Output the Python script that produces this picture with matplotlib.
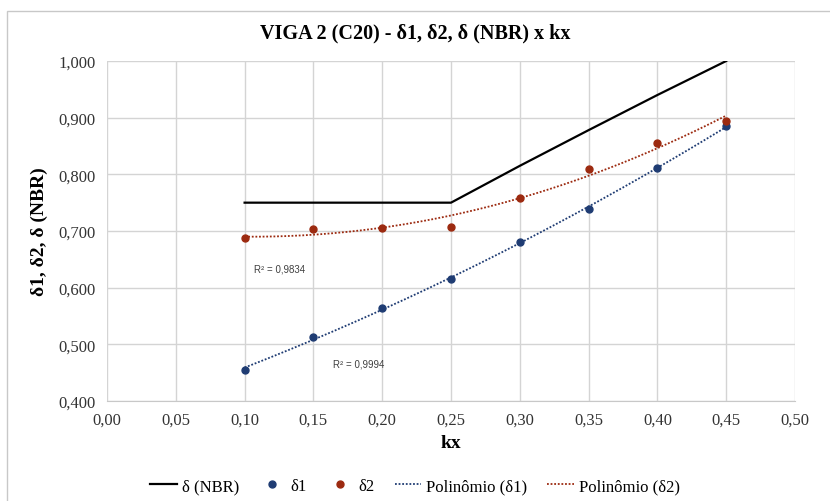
import numpy as np
import matplotlib
matplotlib.use('Agg')
import matplotlib.pyplot as plt
from matplotlib.patches import Rectangle
from matplotlib.ticker import FuncFormatter

kx = [0.10, 0.15, 0.20, 0.25, 0.30, 0.35, 0.40, 0.45]
d_nbr = [0.750, 0.750, 0.750, 0.750, 0.815, 0.878, 0.940, 1.000]
d1 = [0.455, 0.513, 0.564, 0.615, 0.680, 0.739, 0.812, 0.885]
d2 = [0.688, 0.704, 0.705, 0.707, 0.759, 0.810, 0.855, 0.894]

c1 = '#1F3C73'
c2 = '#9C2A10'

plt.rcParams['font.family'] = ['Liberation Serif', 'DejaVu Serif']

fig = plt.figure(figsize=(8.3, 5.02), dpi=100)
ax = fig.add_axes([107/830, 100/502, 688/830, 340/502])

# borda do gráfico
fig.patches.append(Rectangle((7/830, -0.1), 1.2, 1 - 12/502 + 0.1,
                             transform=fig.transFigure, fill=False,
                             edgecolor='#C8C8C8', linewidth=1.0))

ax.plot(kx, d_nbr, color='black', linewidth=1.6, label='δ (NBR)', zorder=3)
ax.plot(kx, d1, 'o', color=c1, markersize=5, label='δ1', zorder=4)
ax.plot(kx, d2, 'o', color=c2, markersize=5, label='δ2', zorder=4)

# linhas de tendência polinomiais (grau 2)
xs = np.linspace(kx[0], kx[-1], 200)
p1 = np.polyfit(kx, d1, 2)
p2 = np.polyfit(kx, d2, 2)
ax.plot(xs, np.polyval(p1, xs), linestyle=(0, (1, 1)), color=c1, linewidth=1.3,
        label='Polinômio (δ1)', zorder=3)
ax.plot(xs, np.polyval(p2, xs), linestyle=(0, (1, 1)), color=c2, linewidth=1.3,
        label='Polinômio (δ2)', zorder=3)

ax.text(0.107, 0.633, 'R² = 0,9834', fontsize=7, family=['Liberation Sans'],
        color='#404040', va='center')
ax.text(0.164, 0.467, 'R² = 0,9994', fontsize=7, family=['Liberation Sans'],
        color='#404040', va='center')

ax.set_xlim(0, 0.5)
ax.set_ylim(0.4, 1.0)
ax.set_xticks(np.arange(0, 0.501, 0.05))
ax.set_yticks(np.arange(0.4, 1.001, 0.1))
ax.xaxis.set_major_formatter(FuncFormatter(lambda v, p: f'{v:.2f}'.replace('.', ',')))
ax.yaxis.set_major_formatter(FuncFormatter(lambda v, p: f'{v:.3f}'.replace('.', ',')))
ax.tick_params(length=0, labelsize=12, colors='#333333', pad=8)
ax.grid(True, color='#D4D4D4', linewidth=1.0)
ax.set_axisbelow(True)
for s in ax.spines.values():
    s.set_visible(False)
ax.spines['bottom'].set_visible(True)
ax.spines['bottom'].set_color('#C8C8C8')

ax.set_xlabel('kx', fontsize=14, fontweight='bold', labelpad=4)
ax.set_ylabel('δ1, δ2, δ (NBR)', fontsize=14, fontweight='bold', labelpad=8)
fig.text(0.5, 1 - 33/502, 'VIGA 2 (C20) - δ1, δ2, δ (NBR) x kx', ha='center', va='center',
         fontsize=14.5, fontweight='bold')

fig.legend(loc='center', bbox_to_anchor=(0.5, 1 - 487/502), ncol=5, frameon=False,
           fontsize=12, handlelength=1.6, columnspacing=1.2, handletextpad=0.3)

fig.savefig('out.png', dpi=100)
